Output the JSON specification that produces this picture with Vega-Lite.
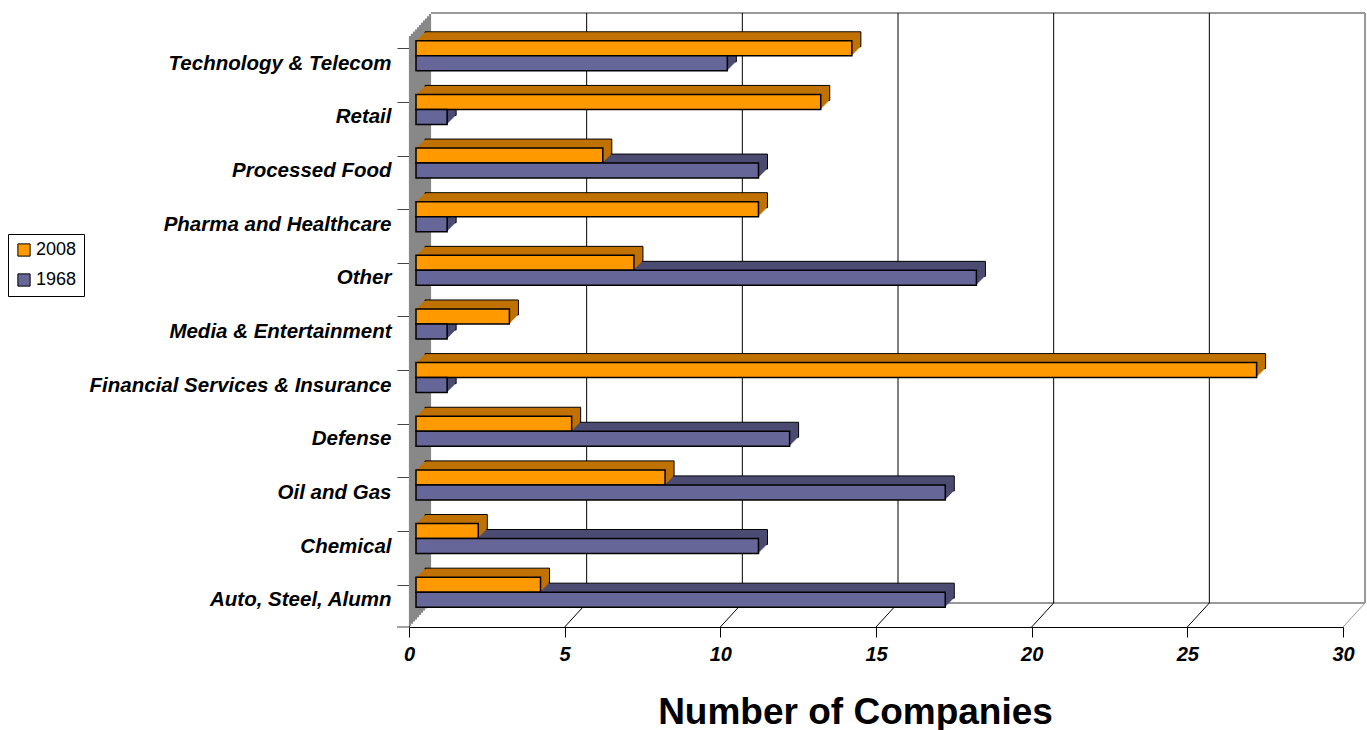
{
  "$schema": "https://vega.github.io/schema/vega-lite/v6.json",
  "width": 934,
  "height": 590,
  "autosize": {"type": "none"},
  "padding": {"left": 409, "top": 37, "right": 24, "bottom": 103},
  "background": "white",
  "config": {"view": {"stroke": null}},
  "datasets": {
    "bars": [
      {"cat": "Technology & Telecom", "series": "2008", "n": 14},
      {"cat": "Technology & Telecom", "series": "1968", "n": 10},
      {"cat": "Retail", "series": "2008", "n": 13},
      {"cat": "Retail", "series": "1968", "n": 1},
      {"cat": "Processed Food", "series": "2008", "n": 6},
      {"cat": "Processed Food", "series": "1968", "n": 11},
      {"cat": "Pharma and Healthcare", "series": "2008", "n": 11},
      {"cat": "Pharma and Healthcare", "series": "1968", "n": 1},
      {"cat": "Other", "series": "2008", "n": 7},
      {"cat": "Other", "series": "1968", "n": 18},
      {"cat": "Media & Entertainment", "series": "2008", "n": 3},
      {"cat": "Media & Entertainment", "series": "1968", "n": 1},
      {"cat": "Financial Services & Insurance", "series": "2008", "n": 27},
      {"cat": "Financial Services & Insurance", "series": "1968", "n": 1},
      {"cat": "Defense", "series": "2008", "n": 5},
      {"cat": "Defense", "series": "1968", "n": 12},
      {"cat": "Oil and Gas", "series": "2008", "n": 8},
      {"cat": "Oil and Gas", "series": "1968", "n": 17},
      {"cat": "Chemical", "series": "2008", "n": 2},
      {"cat": "Chemical", "series": "1968", "n": 11},
      {"cat": "Auto, Steel, Alumn", "series": "2008", "n": 4},
      {"cat": "Auto, Steel, Alumn", "series": "1968", "n": 17}
    ],
    "one": [{}],
    "grid": [{"v": 5}, {"v": 10}, {"v": 15}, {"v": 20}, {"v": 25}],
    "diag": [{"v": 5, "c": "a"}, {"v": 10, "c": "a"}, {"v": 15, "c": "a"}, {"v": 20, "c": "a"}, {"v": 25, "c": "a"}, {"v": 30, "c": "b"}]
  },
  "layer": [
    {"data": {"name": "one"}, "mark": {"type": "rule", "color": "#999999", "strokeWidth": 2, "xOffset": 22, "x2Offset": 22, "yOffset": -24, "y2Offset": -24}, "encoding": {"x": {"datum": 0, "type": "quantitative"}, "x2": {"datum": 30}, "y": {"value": 0}}},
    {"data": {"name": "one"}, "mark": {"type": "rule", "color": "#999999", "strokeWidth": 2, "xOffset": 22, "x2Offset": 22, "yOffset": -24, "y2Offset": -24}, "encoding": {"x": {"datum": 0, "type": "quantitative"}, "x2": {"datum": 30}, "y": {"value": "height"}}},
    {"data": {"name": "one"}, "mark": {"type": "rule", "color": "#999999", "strokeWidth": 2, "xOffset": 22, "yOffset": -24, "y2Offset": -24}, "encoding": {"x": {"datum": 30, "type": "quantitative"}, "y": {"value": 0}, "y2": {"value": "height"}}},
    {"data": {"name": "grid"}, "mark": {"type": "rule", "color": "black", "strokeWidth": 1, "xOffset": 22, "yOffset": -24, "y2Offset": -24}, "encoding": {"x": {"field": "v", "type": "quantitative"}, "y": {"value": 0}, "y2": {"value": "height"}}},
    {"data": {"name": "diag"}, "mark": {"type": "rule", "strokeWidth": 1, "x2Offset": 22, "y2Offset": -24}, "encoding": {"x": {"field": "v", "type": "quantitative"}, "x2": {"field": "v"}, "y": {"value": "height"}, "y2": {"value": "height"}, "color": {"condition": {"test": "datum.c === 'a'", "value": "black"}, "value": "#999999"}}},
    {"data": {"name": "one"}, "mark": {"type": "rule", "color": "#888888", "strokeWidth": 2.2, "xOffset": 1, "yOffset": -1.1, "y2Offset": -1.1}, "encoding": {"x": {"datum": 0, "type": "quantitative"}, "y": {"value": 0}, "y2": {"value": "height"}}},
    {"data": {"name": "one"}, "mark": {"type": "rule", "color": "#888888", "strokeWidth": 2.2, "xOffset": 3, "yOffset": -3.3, "y2Offset": -3.3}, "encoding": {"x": {"datum": 0, "type": "quantitative"}, "y": {"value": 0}, "y2": {"value": "height"}}},
    {"data": {"name": "one"}, "mark": {"type": "rule", "color": "#888888", "strokeWidth": 2.2, "xOffset": 5, "yOffset": -5.5, "y2Offset": -5.5}, "encoding": {"x": {"datum": 0, "type": "quantitative"}, "y": {"value": 0}, "y2": {"value": "height"}}},
    {"data": {"name": "one"}, "mark": {"type": "rule", "color": "#888888", "strokeWidth": 2.2, "xOffset": 7, "yOffset": -7.6, "y2Offset": -7.6}, "encoding": {"x": {"datum": 0, "type": "quantitative"}, "y": {"value": 0}, "y2": {"value": "height"}}},
    {"data": {"name": "one"}, "mark": {"type": "rule", "color": "#888888", "strokeWidth": 2.2, "xOffset": 9, "yOffset": -9.8, "y2Offset": -9.8}, "encoding": {"x": {"datum": 0, "type": "quantitative"}, "y": {"value": 0}, "y2": {"value": "height"}}},
    {"data": {"name": "one"}, "mark": {"type": "rule", "color": "#888888", "strokeWidth": 2.2, "xOffset": 11, "yOffset": -12, "y2Offset": -12}, "encoding": {"x": {"datum": 0, "type": "quantitative"}, "y": {"value": 0}, "y2": {"value": "height"}}},
    {"data": {"name": "one"}, "mark": {"type": "rule", "color": "#888888", "strokeWidth": 2.2, "xOffset": 13, "yOffset": -14.2, "y2Offset": -14.2}, "encoding": {"x": {"datum": 0, "type": "quantitative"}, "y": {"value": 0}, "y2": {"value": "height"}}},
    {"data": {"name": "one"}, "mark": {"type": "rule", "color": "#888888", "strokeWidth": 2.2, "xOffset": 15, "yOffset": -16.4, "y2Offset": -16.4}, "encoding": {"x": {"datum": 0, "type": "quantitative"}, "y": {"value": 0}, "y2": {"value": "height"}}},
    {"data": {"name": "one"}, "mark": {"type": "rule", "color": "#888888", "strokeWidth": 2.2, "xOffset": 17, "yOffset": -18.5, "y2Offset": -18.5}, "encoding": {"x": {"datum": 0, "type": "quantitative"}, "y": {"value": 0}, "y2": {"value": "height"}}},
    {"data": {"name": "one"}, "mark": {"type": "rule", "color": "#888888", "strokeWidth": 2.2, "xOffset": 19, "yOffset": -20.7, "y2Offset": -20.7}, "encoding": {"x": {"datum": 0, "type": "quantitative"}, "y": {"value": 0}, "y2": {"value": "height"}}},
    {"data": {"name": "one"}, "mark": {"type": "rule", "color": "#888888", "strokeWidth": 2.2, "xOffset": 21, "yOffset": -22.9, "y2Offset": -22.9}, "encoding": {"x": {"datum": 0, "type": "quantitative"}, "y": {"value": 0}, "y2": {"value": "height"}}},
    {
      "data": {"name": "bars"},
      "encoding": {
        "y": {"field": "cat", "type": "nominal", "sort": ["Technology & Telecom", "Retail", "Processed Food", "Pharma and Healthcare", "Other", "Media & Entertainment", "Financial Services & Insurance", "Defense", "Oil and Gas", "Chemical", "Auto, Steel, Alumn"], "scale": {"paddingInner": 0.44, "paddingOuter": 0.22},
          "axis": {"title": null, "bandPosition": 0, "tickSize": 12, "tickColor": "#444444", "domainColor": "#333333", "labelFont": "Liberation Sans", "labelFontSize": 20.5, "labelFontWeight": "bold", "labelFontStyle": "italic", "labelColor": "black", "labelPadding": 6, "labelLimit": 400}},
        "x": {"field": "n", "type": "quantitative", "scale": {"domain": [0, 30], "nice": false},
          "axis": {"title": "Number of Companies", "values": [0, 5, 10, 15, 20, 25, 30], "grid": false, "tickSize": 10, "tickColor": "black", "domainColor": "black", "labelFont": "Liberation Sans", "labelFontSize": 20, "labelFontWeight": "bold", "labelFontStyle": "italic", "labelColor": "black", "labelPadding": 7, "labelFlush": false, "titleFont": "Liberation Sans", "titleFontSize": 37, "titleFontWeight": "bold", "titleColor": "black", "titlePadding": 30, "titleX": 446}}
      },
      "resolve": {"scale": {"yOffset": "independent"}},
      "layer": [
        {"mark": {"type": "bar", "xOffset": 16, "stroke": "black", "strokeWidth": 1}, "encoding": {"yOffset": {"field": "series", "scale": {"domain": ["2008", "1968"], "range": [-17, 13]}}, "color": {"condition": {"test": "datum.series === '2008'", "value": "#C07200"}, "value": "#4C4C73"}}},
        {"mark": {"type": "bar", "xOffset": 15}, "encoding": {"yOffset": {"field": "series", "scale": {"domain": ["2008", "1968"], "range": [-16, 14]}}, "color": {"condition": {"test": "datum.series === '2008'", "value": "#C07200"}, "value": "#4C4C73"}}},
        {"mark": {"type": "bar", "xOffset": 14}, "encoding": {"yOffset": {"field": "series", "scale": {"domain": ["2008", "1968"], "range": [-15, 15]}}, "color": {"condition": {"test": "datum.series === '2008'", "value": "#C07200"}, "value": "#4C4C73"}}},
        {"mark": {"type": "bar", "xOffset": 13}, "encoding": {"yOffset": {"field": "series", "scale": {"domain": ["2008", "1968"], "range": [-14, 16]}}, "color": {"condition": {"test": "datum.series === '2008'", "value": "#C07200"}, "value": "#4C4C73"}}},
        {"mark": {"type": "bar", "xOffset": 12}, "encoding": {"yOffset": {"field": "series", "scale": {"domain": ["2008", "1968"], "range": [-13, 17]}}, "color": {"condition": {"test": "datum.series === '2008'", "value": "#C07200"}, "value": "#4C4C73"}}},
        {"mark": {"type": "bar", "xOffset": 11}, "encoding": {"yOffset": {"field": "series", "scale": {"domain": ["2008", "1968"], "range": [-12, 18]}}, "color": {"condition": {"test": "datum.series === '2008'", "value": "#C07200"}, "value": "#4C4C73"}}},
        {"mark": {"type": "bar", "xOffset": 10}, "encoding": {"yOffset": {"field": "series", "scale": {"domain": ["2008", "1968"], "range": [-11, 19]}}, "color": {"condition": {"test": "datum.series === '2008'", "value": "#C07200"}, "value": "#4C4C73"}}},
        {"mark": {"type": "bar", "xOffset": 9}, "encoding": {"yOffset": {"field": "series", "scale": {"domain": ["2008", "1968"], "range": [-10, 20]}}, "color": {"condition": {"test": "datum.series === '2008'", "value": "#C07200"}, "value": "#4C4C73"}}},
        {"mark": {"type": "bar", "xOffset": 8}, "encoding": {"yOffset": {"field": "series", "scale": {"domain": ["2008", "1968"], "range": [-9, 21]}}, "color": {"condition": {"test": "datum.series === '2008'", "value": "#C07200"}, "value": "#4C4C73"}}},
        {"mark": {"type": "bar", "xOffset": 7, "stroke": "black", "strokeWidth": 1.5},
          "encoding": {"yOffset": {"field": "series", "scale": {"domain": ["2008", "1968"], "range": [-8, 22]}},
            "color": {"field": "series", "type": "nominal", "scale": {"domain": ["2008", "1968"], "range": ["#FF9900", "#666699"]},
            "legend": {"title": null, "orient": "none", "legendX": -401, "legendY": 197, "direction": "vertical", "symbolType": "square", "symbolSize": 150, "symbolStrokeColor": "black", "symbolStrokeWidth": 1, "symbolOpacity": 1, "labelFont": "Liberation Sans", "labelFontSize": 18, "labelColor": "black", "strokeColor": "black", "fillColor": "white", "padding": 7, "rowPadding": 12, "labelOffset": 3}}}}
      ]
    },
    {"data": {"name": "one"}, "mark": {"type": "rule", "color": "#444444", "strokeWidth": 1}, "encoding": {"x": {"value": -12}, "x2": {"value": 0}, "y": {"value": "height"}}}
  ]
}
